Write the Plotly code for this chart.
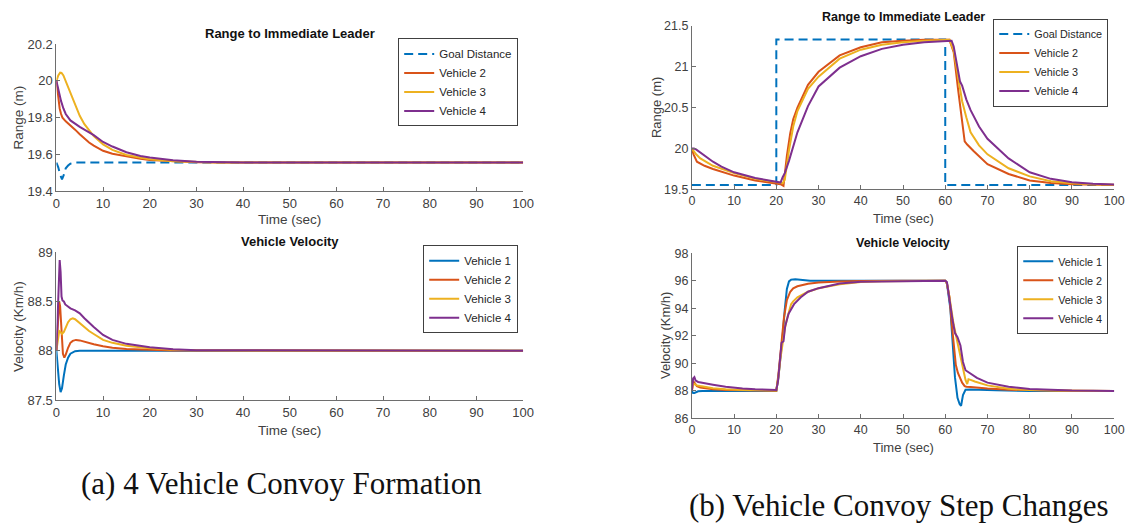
import plotly.graph_objects as go

# ---------------- data ----------------
# (a) Range to immediate leader
a_goal_t = [0, 0.4, 0.8, 1.2, 1.6, 2.0, 2.5, 3.0, 4.0, 100]
a_goal_v = [19.556, 19.53, 19.49, 19.465, 19.49, 19.525, 19.54, 19.55, 19.556, 19.556]

a_r2_t = [0, 0.3, 0.7, 1.0, 1.3, 2, 3, 4, 5, 6, 7, 8, 10, 12, 15, 18, 20, 25, 30, 35, 40, 100]
a_r2_v = [20.0, 19.93, 19.85, 19.82, 19.80, 19.78, 19.76, 19.735, 19.71, 19.685, 19.665, 19.648,
          19.62, 19.604, 19.588, 19.576, 19.57, 19.562, 19.558, 19.556, 19.556, 19.556]

a_r3_t = [0, 0.4, 0.8, 1.1, 1.5, 2, 2.5, 3, 4, 5, 6, 7, 8, 10, 12, 15, 18, 20, 25, 30, 35, 40, 100]
a_r3_v = [20.0, 20.03, 20.045, 20.043, 20.03, 20.0, 19.97, 19.935, 19.87, 19.81, 19.765, 19.73,
          19.70, 19.655, 19.625, 19.597, 19.582, 19.574, 19.563, 19.558, 19.556, 19.556, 19.556]

a_r4_t = [0, 0.5, 1, 1.5, 2, 3, 4, 5, 6, 7, 8, 10, 12, 15, 18, 20, 25, 30, 35, 40, 100]
a_r4_v = [20.0, 19.94, 19.89, 19.85, 19.82, 19.785, 19.765, 19.75, 19.735, 19.72, 19.705, 19.668,
          19.643, 19.612, 19.592, 19.583, 19.569, 19.561, 19.558, 19.556, 19.556]

# (a) Vehicle velocity
a_v1_t = [0, 0.3, 0.6, 0.9, 1.2, 1.6, 2.0, 2.5, 3.0, 4.0, 5, 100]
a_v1_v = [88.0, 87.82, 87.66, 87.58, 87.62, 87.75, 87.86, 87.93, 87.97, 87.995, 88.0, 88.0]

a_v2_t = [0, 0.3, 0.6, 0.8, 1.1, 1.4, 1.7, 2.0, 2.5, 3.0, 3.5, 4.2, 5, 6, 8, 10, 12, 15, 20, 25, 100]
a_v2_v = [88.0, 88.25, 88.5, 88.45, 88.15, 87.97, 87.93, 87.96, 88.03, 88.08, 88.1, 88.11, 88.105,
          88.09, 88.065, 88.045, 88.03, 88.017, 88.006, 88.002, 88.0]

a_v3_t = [0, 0.3, 0.6, 0.9, 1.2, 1.6, 2.0, 2.5, 3.0, 3.5, 4, 5, 6, 7, 8, 10, 12, 15, 20, 25, 30, 100]
a_v3_v = [88.0, 88.1, 88.2, 88.19, 88.17, 88.19, 88.24, 88.29, 88.32, 88.33, 88.32, 88.28, 88.24,
          88.2, 88.17, 88.11, 88.08, 88.05, 88.025, 88.01, 88.004, 88.0]

a_v4_t = [0, 0.2, 0.45, 0.7, 0.9, 1.1, 1.3, 1.6, 1.9, 2.2, 3, 4, 5, 6, 7, 8, 10, 12, 15, 20, 25, 30, 100]
a_v4_v = [88.0, 88.3, 88.7, 88.92, 88.8, 88.55, 88.51, 88.5, 88.47, 88.46, 88.43, 88.41, 88.38,
          88.33, 88.28, 88.24, 88.16, 88.11, 88.07, 88.035, 88.015, 88.005, 88.0]

# (b) Range to immediate leader
b_goal_t = [0, 20, 20, 60, 60, 100]
b_goal_v = [19.556, 19.556, 21.333, 21.333, 19.556, 19.556]

b_r2_t = [0, 0.4, 1.2, 3, 5, 10, 15, 20, 21, 21.7, 22.5, 23.3, 24, 25, 27.5, 30, 35, 40, 45, 50,
          55, 61, 62, 63, 63.75, 64.6, 65.2, 66.7, 70, 75, 80, 85, 90, 100]
b_r2_v = [20.0, 19.93, 19.84, 19.79, 19.75, 19.67, 19.61, 19.58, 19.565, 19.545, 19.91, 20.19, 20.36,
          20.5, 20.78, 20.94, 21.14, 21.24, 21.30, 21.32, 21.33, 21.33, 21.18, 20.74, 20.42, 20.09,
          20.05, 19.97, 19.81, 19.69, 19.61, 19.58, 19.565, 19.556]

b_r3_t = [0, 1, 2, 5, 10, 15, 20, 21.5, 22, 22.5, 23, 24, 25, 27.5, 30, 35, 40, 45, 50, 55, 61,
          62, 63, 64, 65, 66, 68, 70, 75, 80, 85, 90, 95, 100]
b_r3_v = [20.0, 19.93, 19.88, 19.79, 19.70, 19.63, 19.59, 19.575, 19.62, 19.8, 19.98, 20.27, 20.46,
          20.73, 20.88, 21.1, 21.21, 21.27, 21.3, 21.32, 21.33, 21.2, 20.9, 20.58, 20.38, 20.2,
          20.04, 19.93, 19.76, 19.66, 19.6, 19.575, 19.563, 19.558]

b_r4_t = [0, 0.5, 1, 2, 3, 5, 7, 10, 15, 20, 21, 21.5, 22, 23, 24, 25, 27.5, 30, 35, 40, 45, 50,
          55, 60, 61.5, 62, 62.5, 63, 63.5, 64, 65, 66, 68, 70, 75, 80, 85, 90, 95, 100]
b_r4_v = [20.0, 20.0, 19.99, 19.95, 19.91, 19.84, 19.78, 19.71, 19.64, 19.6, 19.585, 19.65, 19.7,
          19.85, 20.03, 20.2, 20.52, 20.76, 20.99, 21.13, 21.22, 21.27, 21.3, 21.32, 21.32, 21.25,
          21.1, 20.92, 20.82, 20.77, 20.6, 20.47, 20.27, 20.12, 19.88, 19.71, 19.63, 19.59,
          19.57, 19.56]

# (b) Vehicle velocity
b_v1_t = [0, 0.3, 0.6, 1.0, 1.5, 2.5, 20, 20.5, 21, 21.5, 22, 22.5, 23, 23.5, 24.5, 26, 28,
          60, 60.4, 61.2, 61.8, 62.3, 62.9, 63.4, 63.75, 64.2, 64.8, 66, 72, 80, 100]
b_v1_v = [88.0, 87.85, 87.85, 87.9, 87.97, 88.0, 88.0, 89.0, 90.3, 92.0, 93.9, 95.4, 95.95, 96.08,
          96.1, 96.05, 96.0, 96.0, 95.8, 94.0, 91.0, 89.0, 87.5, 87.05, 86.92, 87.7, 88.08, 88.1,
          88.04, 88.0, 88.0]

b_v2_t = [0, 0.3, 0.6, 1.2, 2, 3, 5, 8, 12, 20, 20.5, 21, 21.3, 21.8, 22.5, 23.3, 24, 25, 27.5,
          30, 35, 40, 50, 60, 60.4, 61, 61.5, 62, 62.5, 63, 63.5, 64, 64.6, 65, 66, 68, 70, 75,
          80, 85, 90, 100]
b_v2_v = [88.0, 88.7, 88.6, 88.35, 88.25, 88.2, 88.12, 88.07, 88.04, 88.02, 89.2, 91.0, 91.9, 93.3,
          94.6, 95.2, 95.45, 95.6, 95.78, 95.87, 95.94, 95.98, 96.0, 96.0, 95.8, 94.8, 93.0, 91.2,
          89.9, 89.3, 88.9, 88.6, 88.35, 88.3, 88.28, 88.22, 88.17, 88.09, 88.04, 88.02, 88.01, 88.0]

b_v3_t = [0, 0.3, 0.6, 1.2, 2, 3, 5, 8, 12, 20, 20.5, 21, 21.5, 22, 22.5, 23, 23.5, 24, 25, 27.5,
          30, 35, 40, 45, 50, 60, 60.4, 61, 62, 63, 63.5, 64.2, 64.8, 65.2, 65.5, 66, 67, 70, 75,
          80, 85, 90, 100]
b_v3_v = [88.0, 88.5, 88.5, 88.4, 88.35, 88.3, 88.2, 88.12, 88.06, 88.03, 89.0, 90.4, 91.5, 92.5,
          93.2, 93.8, 94.3, 94.5, 94.8, 95.2, 95.45, 95.75, 95.9, 95.96, 95.99, 96.0, 95.8, 94.8,
          92.8, 91.3, 90.6, 89.6, 88.8, 88.5, 88.85, 88.8, 88.68, 88.4, 88.15, 88.06, 88.02,
          88.01, 88.0]

b_v4_t = [0, 0.3, 0.6, 0.9, 1.5, 3, 5, 8, 10, 12, 15, 20, 20.4, 21.25, 21.7, 22.1, 22.9, 24.2,
          25.8, 27.5, 30, 35, 40, 50, 60, 60.4, 61, 61.7, 62.3, 62.9, 63.6, 64.2, 64.8, 65.8,
          67.5, 70, 75, 80, 85, 90, 100]
b_v4_v = [88.0, 88.9, 89.0, 88.75, 88.65, 88.55, 88.45, 88.3, 88.23, 88.17, 88.12, 88.07, 88.7,
          91.5, 91.6, 92.7, 93.6, 94.3, 94.8, 95.2, 95.46, 95.8, 95.93, 95.98, 96.0, 95.9, 94.6,
          93.2, 92.2, 91.9, 91.3, 90.1, 89.5, 89.3, 88.94, 88.6, 88.3, 88.14, 88.07, 88.03, 88.0]

# ---------------- styling ----------------
C1, C2, C3, C4 = "#0072BD", "#D95319", "#EDB120", "#7E2F8E"
# the page body has an 8px default margin, so the figure is 8px smaller and
# all page positions are shifted by 8px
OFF = 8
W, H = 1138 - OFF, 525 - OFF
FONT = "Liberation Sans, Arial, sans-serif"
AX = "#6e6e6e"
TXT = "#404040"

fig = go.Figure()


def add(x, y, name, color, xa, ya, leg, dash=None):
    fig.add_trace(go.Scatter(
        x=x, y=y, name=name, mode="lines",
        line=dict(color=color, width=2, dash=dash),
        xaxis=xa, yaxis=ya, legend=leg, showlegend=True))


add(a_goal_t, a_goal_v, "Goal Distance", C1, "x", "y", "legend", "9px,5px")
add(a_r2_t, a_r2_v, "Vehicle 2", C2, "x", "y", "legend")
add(a_r3_t, a_r3_v, "Vehicle 3", C3, "x", "y", "legend")
add(a_r4_t, a_r4_v, "Vehicle 4", C4, "x", "y", "legend")

add(a_v1_t, a_v1_v, "Vehicle 1", C1, "x2", "y2", "legend2")
add(a_v2_t, a_v2_v, "Vehicle 2", C2, "x2", "y2", "legend2")
add(a_v3_t, a_v3_v, "Vehicle 3", C3, "x2", "y2", "legend2")
add(a_v4_t, a_v4_v, "Vehicle 4", C4, "x2", "y2", "legend2")

add(b_goal_t, b_goal_v, "Goal Distance", C1, "x3", "y3", "legend3", "9px,5px")
add(b_r2_t, b_r2_v, "Vehicle 2", C2, "x3", "y3", "legend3")
add(b_r3_t, b_r3_v, "Vehicle 3", C3, "x3", "y3", "legend3")
add(b_r4_t, b_r4_v, "Vehicle 4", C4, "x3", "y3", "legend3")

add(b_v1_t, b_v1_v, "Vehicle 1", C1, "x4", "y4", "legend4")
add(b_v2_t, b_v2_v, "Vehicle 2", C2, "x4", "y4", "legend4")
add(b_v3_t, b_v3_v, "Vehicle 3", C3, "x4", "y4", "legend4")
add(b_v4_t, b_v4_v, "Vehicle 4", C4, "x4", "y4", "legend4")


def px_x(p):
    return (p - OFF) / W


def px_y(p):
    return 1 - (p - OFF) / H


def axis(domain, anchor, rng, dtick, fsize):
    return dict(domain=domain, anchor=anchor, range=rng, dtick=dtick, tick0=rng[0],
                showline=True, linecolor=AX, linewidth=1, ticks="inside", ticklen=4,
                tickcolor=AX, showgrid=False, zeroline=False, mirror=False,
                tickfont=dict(family=FONT, size=fsize, color=TXT))


LX = [px_x(53), px_x(526)]
RX = [px_x(697), px_x(1125)]
LT_Y = [px_y(189.5), px_y(38)]
LB_Y = [px_y(404.5), px_y(252.3)]
RT_Y = [px_y(187.7), px_y(19.3)]
RB_Y = [px_y(423.5), px_y(253.3)]


def legend(xr, yc, fsize):
    return dict(x=px_x(xr), y=px_y(yc), xanchor="right", yanchor="middle",
                bgcolor="white", bordercolor="#404040", borderwidth=1,
                font=dict(family=FONT, size=fsize, color="#262626"),
                itemwidth=30, tracegroupgap=0)


fig.update_layout(
    width=W, height=H, margin=dict(l=0, r=0, t=0, b=0),
    paper_bgcolor="white", plot_bgcolor="white",
    xaxis=axis(LX, "y", [0, 100], 10, 13),
    yaxis=axis(LT_Y, "x", [19.4, 20.2], 0.2, 13),
    xaxis2=axis(LX, "y2", [0, 100], 10, 13),
    yaxis2=axis(LB_Y, "x2", [87.5, 89], 0.5, 13),
    xaxis3=axis(RX, "y3", [0, 100], 10, 12.5),
    yaxis3=axis(RT_Y, "x3", [19.5, 21.5], 0.5, 12.5),
    xaxis4=axis(RX, "y4", [0, 100], 10, 12.5),
    yaxis4=axis(RB_Y, "x4", [86, 98], 2, 12.5),
    legend=legend(521, 77.5, 11.5),
    legend2=legend(521, 290.5, 11.5),
    legend3=legend(1119, 57, 10.8),
    legend4=legend(1119, 291, 10.8),
)

ann = []


def text(s, x, y, size, bold=False, angle=0, color=TXT, family=FONT):
    ann.append(dict(text=f"<b>{s}</b>" if bold else s, x=px_x(x), y=px_y(y),
                    xref="paper", yref="paper", showarrow=False, textangle=angle,
                    xanchor="center", yanchor="middle",
                    font=dict(family=family, size=size, color=color)))


# titles
text("Range to Immediate Leader", 289.5, 27, 13, bold=True, color="#111111")
text("Vehicle Velocity", 289.5, 241, 13, bold=True, color="#111111")
text("Range to Immediate Leader", 911, 10, 12.5, bold=True, color="#111111")
text("Vehicle Velocity", 911, 243, 12.5, bold=True, color="#111111")
# x labels
text("Time (sec)", 289.5, 219, 13.5)
text("Time (sec)", 289.5, 436, 13.5)
text("Time (sec)", 911, 218, 13)
text("Time (sec)", 911, 453, 13)
# y labels
text("Range (m)", 15, 113.75, 13.5, angle=-90)
text("Velocity (Km/h)", 14, 328.4, 13.5, angle=-90)
text("Range (m)", 661, 103.5, 13, angle=-90)
text("Velocity (Km/h)", 671, 338.4, 13, angle=-90)
# captions
SERIF = "Liberation Serif, Times New Roman, serif"
text("(a) 4 Vehicle Convoy Formation", 281, 491, 31, color="#111111", family=SERIF)
text("(b) Vehicle Convoy Step Changes", 907, 513, 31, color="#111111", family=SERIF)

fig.update_layout(annotations=ann)
fig.write_html("out.html")
